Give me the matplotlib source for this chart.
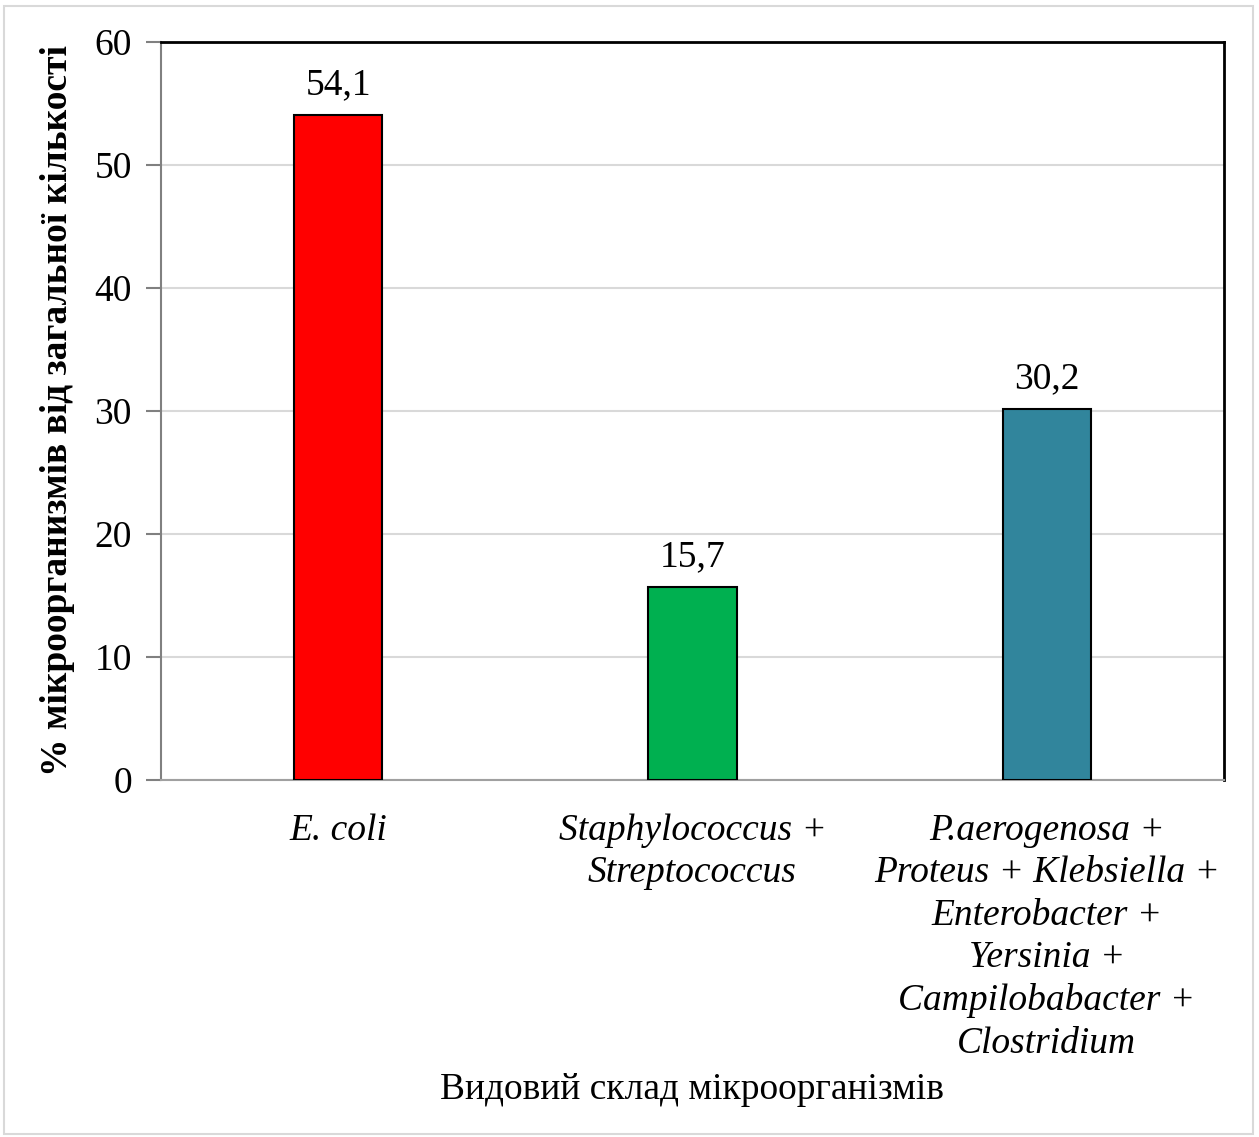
import matplotlib
matplotlib.use('Agg')
import matplotlib.pyplot as plt
from matplotlib.patches import Rectangle

categories = [
    'E. coli',
    'Staphylococcus +\nStreptococcus',
    'P.aerogenosa +\nProteus + Klebsiella +\nEnterobacter +\nYersinia +\nCampilobabacter +\nClostridium',
]
values = [54.1, 15.7, 30.2]
value_labels = ['54,1', '15,7', '30,2']
colors = ['#ff0000', '#00b050', '#31859c']

plt.rcParams['font.family'] = ['Liberation Serif', 'DejaVu Serif']
FS = 27

fig = plt.figure(figsize=(12.59, 11.37), dpi=100)
ax = fig.add_axes([161 / 1259, 1 - 780 / 1137, (1224 - 161) / 1259, (780 - 42) / 1137])

x = range(len(categories))
ax.bar(x, values, width=0.25, color=colors, edgecolor='black', linewidth=1.5, zorder=3)
for xi, v, lab in zip(x, values, value_labels):
    ax.text(xi, v + 1.0, lab, ha='center', va='bottom', fontsize=FS)

ax.set_xlim(-0.5, 2.5)
ax.set_ylim(0, 60)
ax.set_yticks(range(0, 61, 10))
ax.tick_params(axis='y', labelsize=FS, length=11, color='#808080', width=1.5, pad=10)
ax.set_xticks(list(x))
ax.set_xticklabels(categories, fontsize=FS, style='italic', linespacing=1.3)
ax.tick_params(axis='x', length=0, pad=24)
ax.grid(axis='y', color='#d9d9d9', linewidth=1.5, zorder=0)

ax.spines['left'].set_color('#808080')
ax.spines['bottom'].set_color('#a0a0a0')
ax.spines['left'].set_linewidth(1.5)
ax.spines['bottom'].set_linewidth(1.5)
ax.spines['top'].set_linewidth(2)
ax.spines['right'].set_linewidth(2)

ax.set_ylabel('% мікроорганизмів від загальної кількості', fontsize=FS, fontweight='bold', labelpad=14)
fig.text(692 / 1259, 1 - 1090 / 1137, 'Видовий склад мікроорганізмів', ha='center', va='center', fontsize=FS)

fig.patches.append(Rectangle((0.003, 0.003), 0.992, 0.992, transform=fig.transFigure,
                             fill=False, edgecolor='#d9d9d9', linewidth=1.5))

fig.savefig('out.png', dpi=100)
